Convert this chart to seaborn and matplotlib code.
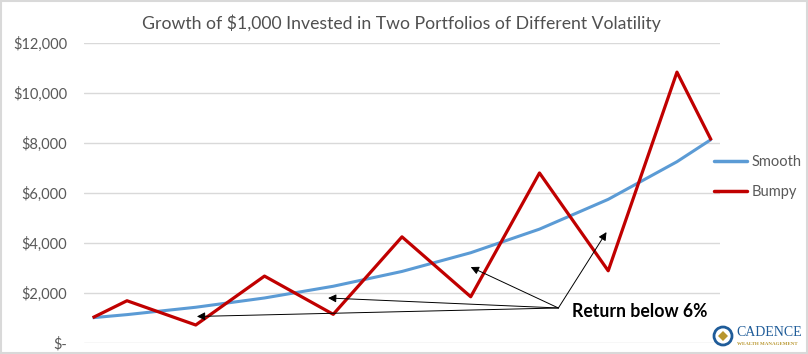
import pandas as pd
import matplotlib
matplotlib.use("Agg")
import matplotlib.pyplot as plt
from matplotlib.patches import Rectangle, Ellipse, Polygon
import seaborn as sns

# values; the category axis runs over 37 years,
# the lines only have points at these years (gaps are connected)
point_years = [0, 2, 6, 10, 14, 18, 22, 26, 30, 34, 36]
smooth = [1000, 1124, 1419, 1791, 2261, 2854, 3604, 4549, 5743, 7251, 8147]
bumpy = [1000, 1680, 708, 2668, 1136, 4240, 1840, 6800, 2880, 10840, 8108]
n_years = 37
y_ticks = [0, 2000, 4000, 6000, 8000, 10000, 12000]
y_labels = ["$-", "$2,000", "$4,000", "$6,000", "$8,000", "$10,000", "$12,000"]

# arrow tips (year, value) for the "Return below 6%" callout
arrow_from = (27.1, 1390)
arrow_tips = [(6.07, 1050), (13.7, 1790), (22.0, 3030), (29.9, 4430)]

df = pd.DataFrame({"year": point_years * 2,
                   "value": smooth + bumpy,
                   "series": ["Smooth"] * len(point_years) + ["Bumpy"] * len(point_years)})

sns.set_style("white")
plt.rcParams["font.family"] = ["Lato", "DejaVu Sans"]
grey = "#595959"

fig = plt.figure(figsize=(8.08, 3.54), dpi=100)
ax = fig.add_axes([0.104, 0.032, 0.787, 0.846])

sns.lineplot(data=df, x="year", y="value", hue="series",
             palette={"Smooth": "#5B9BD5", "Bumpy": "#C00000"},
             ax=ax, legend=True)
for line, lw in zip(ax.lines, [2.2, 2.3]):
    line.set_linewidth(lw)
    line.set_solid_capstyle("butt")

ax.set_xlim(-0.5, n_years - 0.5)
ax.set_ylim(0, 12000)
ax.set_yticks(y_ticks)
ax.set_yticklabels(y_labels)
ax.set_xticks([])
ax.set_xlabel("")
ax.set_ylabel("")
ax.tick_params(axis="y", length=0, pad=12, labelsize=10.5, labelcolor=grey)
ax.grid(axis="y", color="#D9D9D9", linewidth=1)
ax.set_axisbelow(True)
sns.despine(ax=ax, left=True, bottom=True)

for tip in arrow_tips:
    ax.annotate("", xy=tip, xytext=arrow_from,
                arrowprops=dict(arrowstyle="-|>", color="black", lw=0.7,
                                mutation_scale=12, shrinkA=0, shrinkB=0))
ax.text(27.9, 1230, "Return below 6%", fontsize=12.7, fontweight="bold",
        color="black", va="center", ha="left")

handles, labels = ax.get_legend_handles_labels()
for h in handles:
    h.set_linewidth(2.5)
ax.legend(handles, labels, loc="center left", bbox_to_anchor=(0.9906, 0.553),
          frameon=False, fontsize=10.5, labelcolor=grey, handlelength=2.3,
          handletextpad=0.28, labelspacing=1.1, borderpad=0, borderaxespad=0)

fig.text(0.497, 0.935, "Growth of $1,000 Invested in Two Portfolios of Different Volatility",
         ha="center", va="center", fontsize=12.7, color="#505050")

# logo
fig.patches.append(Ellipse((723 / 808, 1 - 336 / 354), 18 / 808, 18 / 354,
                           transform=fig.transFigure, fill=False,
                           edgecolor="#1F5C99", linewidth=2))
fig.patches.append(Polygon([(723 / 808, 1 - 331 / 354), (728 / 808, 1 - 336 / 354),
                            (723 / 808, 1 - 341 / 354), (718 / 808, 1 - 336 / 354)],
                           closed=True, transform=fig.transFigure,
                           facecolor="#B8962E", edgecolor="none"))
fig.text(736 / 808, 1 - 333 / 354, "CADENCE", fontsize=10, family="Liberation Serif",
         color="#1F5C99", ha="left", va="center")
fig.text(737 / 808, 1 - 344 / 354, "WEALTH MANAGEMENT", fontsize=3.6,
         family="Liberation Serif", fontweight="bold",
         color="#B8962E", ha="left", va="center")

# chart border
fig.patches.append(Rectangle((1 / 808, 1 / 354), 806 / 808, 352 / 354,
                             transform=fig.transFigure, fill=False,
                             edgecolor="#D9D9D9", linewidth=1.5))

fig.savefig("out.png", dpi=100)
